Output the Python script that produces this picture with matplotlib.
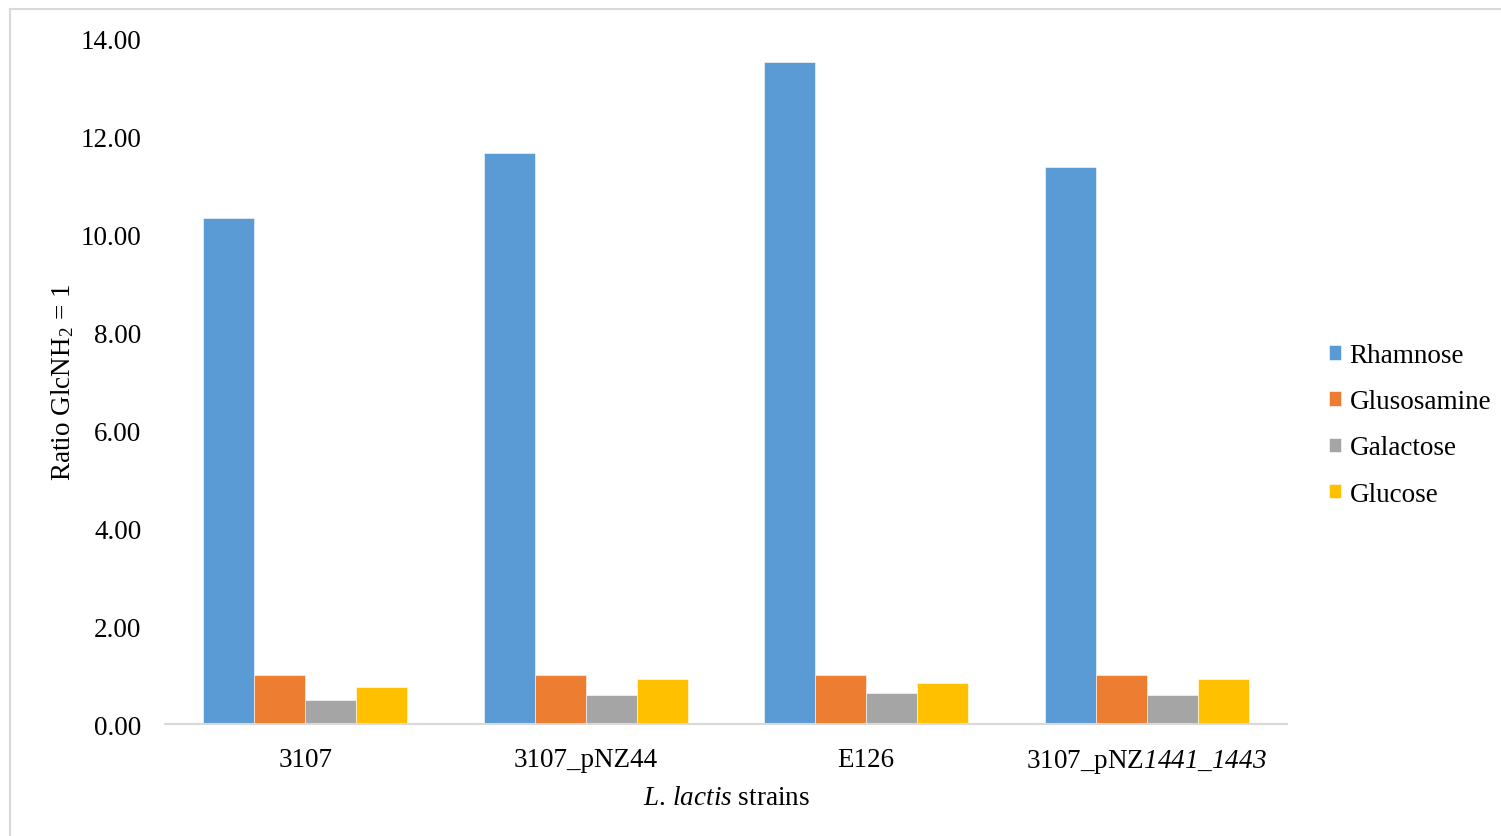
import numpy as np
import matplotlib.pyplot as plt
from matplotlib.lines import Line2D

plt.rcParams['font.family'] = ['Liberation Serif', 'DejaVu Serif']
plt.rcParams['mathtext.fontset'] = 'custom'
plt.rcParams['mathtext.rm'] = 'Liberation Serif'
plt.rcParams['mathtext.it'] = 'Liberation Serif:italic'
# italic face that also slants digits
plt.rcParams['mathtext.sf'] = 'Liberation Serif:italic'
plt.rcParams['mathtext.default'] = 'regular'

# Data: monosaccharide ratios per strain (GlcNH2 = 1)
strains = ['3107', '3107_pNZ44', 'E126', r'3107_pNZ$\mathsf{1441\_1443}$']
sugars = ['Rhamnose', 'Glusosamine', 'Galactose', 'Glucose']
rhamnose = [10.33, 11.65, 13.51, 11.37]
glucosamine = [1.00, 1.00, 1.00, 1.00]
galactose = [0.49, 0.59, 0.63, 0.59]
glucose = [0.76, 0.92, 0.84, 0.92]
colors = ['#5B9BD5', '#ED7D31', '#A5A5A5', '#FFC000']

series = [rhamnose, glucosamine, galactose, glucose]
fs = 19.5

fig = plt.figure(figsize=(15.01, 8.37), dpi=100)
ax = fig.add_axes([0.1099, 0.1338, 0.7475, 0.8196])

x = np.arange(len(strains))
w = 0.182
for i, (vals, name, c) in enumerate(zip(series, sugars, colors)):
    ax.bar(x + (i - 1.5) * w, vals, width=w, color=c, label=name,
           edgecolor='white', linewidth=0.4)

ax.set_xlim(-0.5, len(strains) - 0.5)
ax.set_ylim(0, 14)
ax.set_yticks(np.arange(0, 15, 2))
ax.set_yticklabels([f'{v:.2f}' for v in np.arange(0, 15, 2)])
ax.set_xticks(x)
ax.set_xticklabels(strains)
ax.tick_params(axis='both', length=0, labelsize=fs, colors='#000000')
ax.tick_params(axis='y', pad=17)
ax.tick_params(axis='x', pad=16.5)

for s in ['left', 'right', 'top']:
    ax.spines[s].set_visible(False)
ax.spines['bottom'].set_color('#D9D9D9')
ax.spines['bottom'].set_linewidth(1.5)

ax.set_ylabel('Ratio GlcNH$_2$ = 1', fontsize=fs, labelpad=3)
ax.set_xlabel(r'$\mathit{L.\,lactis}$ strains', fontsize=fs, labelpad=7)

ax.legend(loc='center left', bbox_to_anchor=(1.016, 0.436), frameon=False,
          fontsize=fs, handlelength=0.45, handleheight=0.45,
          handletextpad=0.3, labelspacing=0.78)

# light frame around the chart area
fig.add_artist(Line2D([10 / 1501, 10 / 1501], [0, 1 - 10 / 837],
                      transform=fig.transFigure, color='#D9D9D9', lw=1.5))
fig.add_artist(Line2D([10 / 1501, 1], [1 - 10 / 837, 1 - 10 / 837],
                      transform=fig.transFigure, color='#D9D9D9', lw=1.5))

fig.savefig('out.png', dpi=100)
